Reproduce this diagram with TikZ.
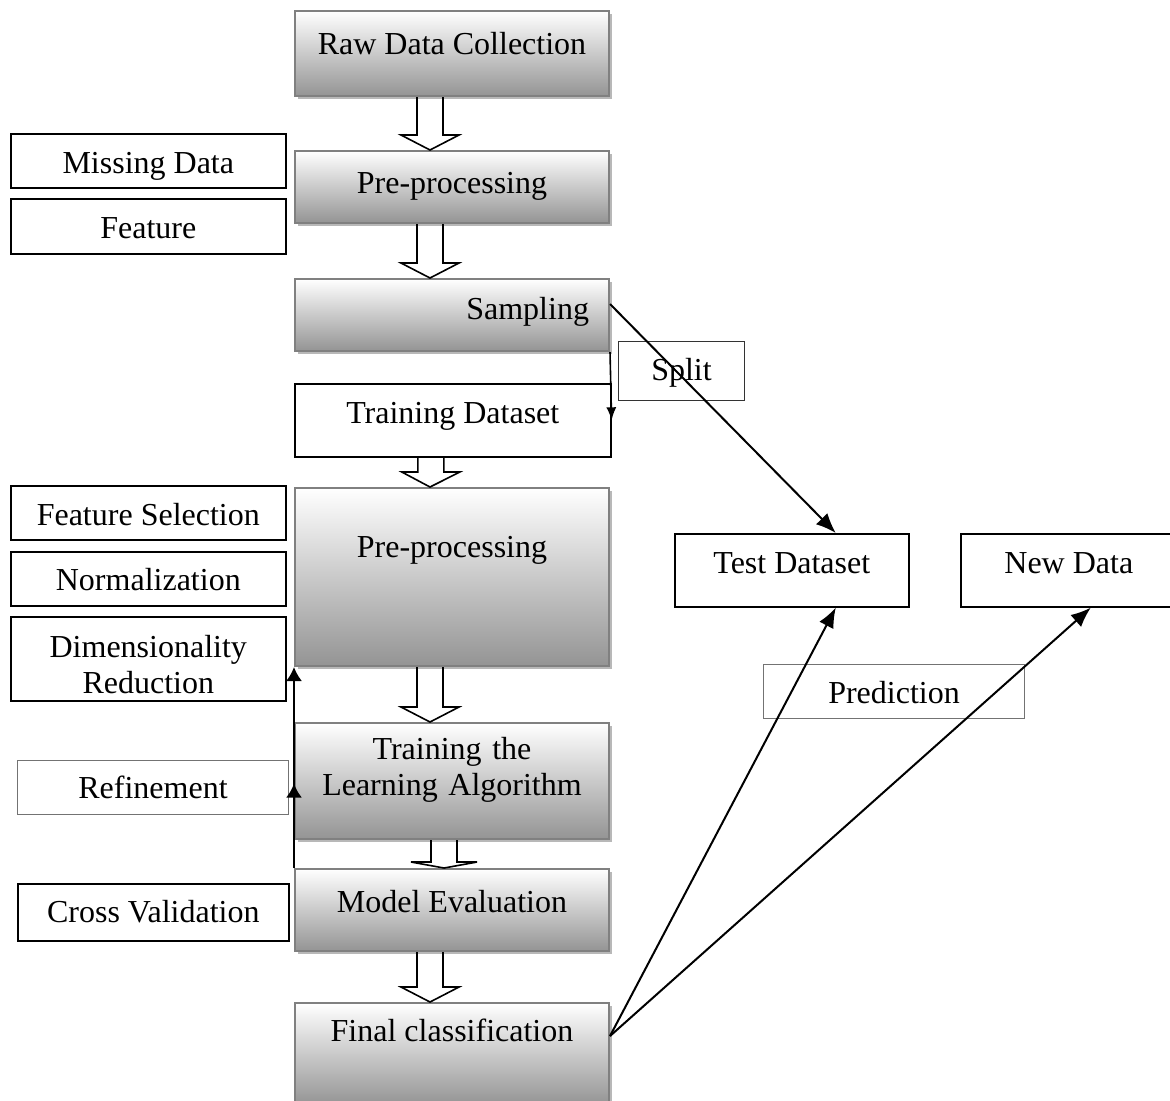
\documentclass[tikz,border=0pt]{standalone}
\usepackage{fontspec}
\setmainfont{Liberation Serif}
\usetikzlibrary{arrows.meta,calc,shadows,decorations.markings}

\tikzset{
  stage/.style={draw=black!50,line width=1pt,top color=white,bottom color=black!42,minimum width=157pt,inner ysep=0pt,anchor=north west,
    drop shadow={shadow xshift=1.5pt,shadow yshift=-1.5pt,fill=black!28,opacity=1}},
  plainbox/.style={draw,line width=0.8pt,fill=white,inner ysep=0pt,anchor=north west},
  thinbox/.style={draw=black!55,line width=0.5pt,fill=white,inner ysep=0pt,anchor=north west},
  flow/.style={line width=1pt,-{Latex[length=10pt,width=8pt]}},
  hollow/.style={line width=0.8pt,line join=miter}
}
% hollow block arrow: from, to, xshift, half head width, head length
\newcommand{\blockarrow}[5]{%
  \draw[hollow] let \p1=([xshift=#3]#1.south), \p2=([xshift=#3]#2.north) in
    (\x1-6.5pt,\y1) -- (\x1-6.5pt,\y2+#5) -- (\x1-#4,\y2+#5) -- (\x2,\y2)
    -- (\x1+#4,\y2+#5) -- (\x1+6.5pt,\y2+#5) -- (\x1+6.5pt,\y1);}

\begin{document}
\begin{tikzpicture}[x=0.5pt,y=-0.5pt,font=\fontsize{16}{18}\selectfont]
\useasboundingbox (0,0) rectangle (1170,1100);
\clip (0,0) rectangle (1170,1100);

% main column
\node[stage,text height=21.5pt,text depth=21pt] (raw) at (294,10) {Raw Data Collection};
\node[stage,text height=21pt,text depth=15pt] (pre1) at (294,150) {Pre-processing};
\node[stage,text height=20pt,text depth=16pt,text width=137pt,inner xsep=10pt,align=right] (samp) at (294,278) {Sampling};
\node[plainbox,minimum width=158pt,text height=20pt,text depth=16.5pt] (train) at (294,383) {Training Dataset};
\node[stage,text height=34.5pt,text depth=54.5pt] (pre2) at (294,487) {Pre-processing};
\node[stage,text height=18pt,text depth=40pt,text width=140pt,align=center] (learn) at (294,722) {Training the\\Learning Algorithm};
\node[stage,text height=21.5pt,text depth=19.5pt] (eval) at (294,868) {Model Evaluation};
\node[stage,text height=19pt,text depth=32pt] (final) at (294,1002) {Final classification};

% side notes
\node[plainbox,minimum width=137.5pt,text height=20pt,text depth=7pt] (miss) at (10,133) {Missing Data};
\node[plainbox,minimum width=137.5pt,text height=20pt,text depth=7.5pt] (feat) at (10,198) {Feature};
\node[plainbox,minimum width=137.5pt,text height=20pt,text depth=7pt] (fsel) at (10,485) {Feature Selection};
\node[plainbox,minimum width=137.5pt,text height=19.5pt,text depth=7.5pt] (norm) at (10,551) {Normalization};
\node[plainbox,minimum width=137.5pt,text height=20.5pt,text depth=21.5pt,text width=120pt,align=center] (dimr) at (10,616) {Dimensionality\\Reduction};
\node[thinbox,minimum width=135.5pt,text height=19pt,text depth=8pt] (refi) at (17,760) {Refinement};
\node[plainbox,minimum width=135.5pt,text height=19.5pt,text depth=9pt] (cros) at (17,883) {Cross Validation};

% right side
\node[thinbox,draw=black!80,minimum width=63pt,text height=19.5pt,text depth=10pt] (split) at (618,341) {Split};
\node[plainbox,minimum width=117pt,text height=20pt,text depth=16.5pt] (test) at (674,533) {Test Dataset};
\node[plainbox,minimum width=108pt,text height=20pt,text depth=16.5pt] (newd) at (960,533) {New Data};
\node[thinbox,minimum width=130.5pt,text height=19.5pt,text depth=7.5pt] (pred) at (763,664) {Prediction};

% block arrows
\blockarrow{raw}{pre1}{-11pt}{14.5pt}{7.5pt}
\blockarrow{pre1}{samp}{-11pt}{14.5pt}{7.5pt}
\blockarrow{train}{pre2}{-11pt}{14.5pt}{7.5pt}
\blockarrow{pre2}{learn}{-11pt}{14.5pt}{7.5pt}
\blockarrow{learn}{eval}{-4pt}{16.5pt}{3pt}
\blockarrow{eval}{final}{-11pt}{14.5pt}{7.5pt}

% connectors
\draw[line width=0.8pt,-{Latex[length=6.5pt,width=5pt]}] (samp.south east) -- (train.east);
\draw[flow] ([yshift=5.5pt]samp.east) -- ([xshift=22pt]test.north);
\draw[flow] ([yshift=9pt]final.east) -- ([xshift=22pt]test.south);
\draw[flow] ([yshift=9pt]final.east) -- ([xshift=11pt]newd.south);
\draw[line width=1pt,-{Latex[length=7pt,width=8pt]},postaction={decorate},decoration={markings,mark=at position 0.42 with {\arrow{Latex[length=7pt,width=8pt]}}}] (eval.north west) -- (pre2.south west);
\end{tikzpicture}
\end{document}
